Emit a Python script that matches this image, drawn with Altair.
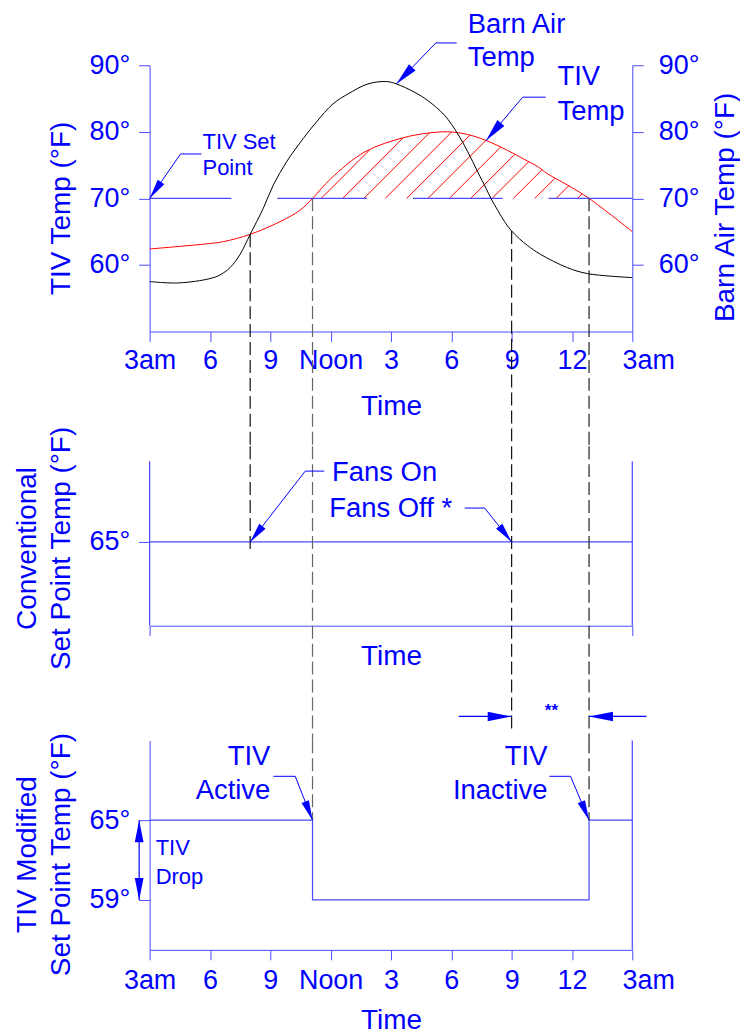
import math
import numpy as np
import pandas as pd
import altair as alt

# ---------------- chart values ----------------
tick_hours = [3, 6, 9, 12, 15, 18, 21, 24, 27]
tick_labels = ["3am", "6", "9", "Noon", "3", "6", "9", "12", "3am"]
top_temp_ticks = [60, 70, 80, 90]

barn_hours = [3.0, 4.44, 6.0, 6.5, 7.0, 7.5, 8.0, 8.65, 9.15, 9.81, 10.64, 11.3, 12.12,
              12.87, 13.86, 14.77, 15.27, 16.17, 16.83, 17.66, 18.32, 18.82, 19.31,
              19.73, 19.97, 20.31, 20.65, 20.97, 21.4, 21.8, 22.43, 23.77, 24.77, 27.0]
barn_temp = [57.5, 57.3, 57.95, 58.5, 59.6, 61.6, 64.6, 68.5, 72.0, 75.5, 79.0, 81.5, 84.2,
             85.7, 87.2, 87.55, 87.2, 85.95, 84.7, 82.5, 79.7, 77.0, 74.0,
             71.5, 70.0, 68.2, 66.5, 65.2, 63.9, 62.9, 61.6, 59.6, 58.7, 58.1]

tiv_hours = [3.0, 5.93, 6.67, 8.0, 9.48, 10.47, 11.1, 12.02, 13.71, 15.6, 16.83, 17.83,
             18.82, 19.73, 20.8, 21.79, 22.29, 22.78, 23.78, 24.85, 27.0]
tiv_temp = [62.4, 63.2, 63.5, 64.6, 66.5, 68.2, 70.0, 73.0, 77.0, 79.1, 79.8, 80.0,
            79.6, 78.7, 77.2, 75.6, 74.8, 73.7, 72.0, 70.0, 65.0]

tiv_set_point = 70
conv_set_point = 65
mod_high = 65
mod_low = 59

fans_on = 8.0
fans_off = 21.0
tiv_active = 11.1
tiv_inactive = 24.85

# ---------------- layout / style ----------------
W = 484
H_TOP, H_MID, H_BOT = 267, 180, 210
GAP = 115
X_DOM = [3, 27]
TOP_DOM = [50, 90]
MID_DOM = [58, 73]
BOT_DOM = [55.25, 71]
KX = W / (X_DOM[1] - X_DOM[0])
K_TOP = H_TOP / (TOP_DOM[1] - TOP_DOM[0])
K_MID = H_MID / (MID_DOM[1] - MID_DOM[0])
K_BOT = H_BOT / (BOT_DOM[1] - BOT_DOM[0])

BLUE = "#0000ff"
LINE = "#4a4aff"
RED = "#ff0000"
FONT = "Liberation Sans"
ARROW = "M0,0L-0.2,1L0.2,1Z"
DASH = [13, 5]
CURVE = "catmull-rom"
FS = 27.5
U = alt.Undefined


def xq(field="h", axis=U):
    return alt.X(f"{field}:Q", scale=alt.Scale(domain=X_DOM, nice=False, zero=False), axis=axis)


def yq(dom, field="t", axis=U):
    return alt.Y(f"{field}:Q", scale=alt.Scale(domain=dom, nice=False, zero=False), axis=axis)


axis_common = dict(domainColor=LINE, tickColor=LINE, labelColor=BLUE, titleColor=BLUE,
                   labelFont=FONT, titleFont=FONT, labelFontSize=27, titleFontSize=28,
                   titleFontWeight="normal", grid=False, labelFlush=False,
                   labelOverlap=False, domainWidth=1, tickWidth=1)

label_expr = " : ".join(f"datum.value == {h} ? '{l}'" for h, l in zip(tick_hours, tick_labels)) + " : ''"
deg_expr = "datum.value + '°'"
last_offset = {"condition": {"test": f"datum.value == {X_DOM[1]}", "value": 16}, "value": 0}

x_axis_top = alt.Axis(values=tick_hours, labelExpr=label_expr, tickSize=10, labelPadding=6,
                      title="Time", titlePadding=19, labelOffset=last_offset, **axis_common)
x_axis_bot = alt.Axis(values=tick_hours, labelExpr=label_expr, tickSize=10, labelPadding=8,
                      title="Time", titlePadding=13, labelOffset=last_offset, **axis_common)
x_axis_mid = alt.Axis(values=[3, 27], labels=False, tickSize=10, title="Time", titlePadding=6,
                      **axis_common)


def arrow(tip_h, tip_t, tail_h, tail_t, ky, length=20):
    dx = (tail_h - tip_h) * KX
    dy = -(tail_t - tip_t) * ky
    ang = math.degrees(math.atan2(-dx, dy)) % 360
    return dict(h=tip_h, t=tip_t, ang=ang, sz=(2 * length) ** 2)


def leaders_layer(paths, dom):
    rows = []
    for i, p in enumerate(paths):
        for j, (h, t) in enumerate(p):
            rows.append(dict(id=i, o=j, h=h, t=t))
    return alt.Chart(pd.DataFrame(rows)).mark_line(color=BLUE, stroke=BLUE, strokeWidth=1, clip=False).encode(
        x=xq(), y=yq(dom), detail="id:N", order="o:Q")


def arrows_layer(rows, dom):
    return alt.Chart(pd.DataFrame(rows)).mark_point(
        shape=ARROW, filled=True, opacity=1, color=BLUE, fill=BLUE, strokeWidth=0, clip=False).encode(
        x=xq(), y=yq(dom), angle=alt.Angle("ang:Q", scale=None), size=alt.Size("sz:Q", scale=None))


def text_layer(rows, dom, align="left", weight="normal"):
    return alt.Chart(pd.DataFrame(rows)).mark_text(
        align=align, baseline="middle", color=BLUE, font=FONT, fontWeight=weight, clip=False).encode(
        x=xq(), y=yq(dom), text="txt:N", size=alt.Size("fs:Q", scale=None))


def dashed_layer(rows, dom):
    return alt.Chart(pd.DataFrame(rows)).mark_rule(strokeDash=DASH, strokeWidth=1.2, clip=False).encode(
        x=xq(), y=yq(dom), y2="t2:Q", stroke=alt.Stroke("col:N", scale=None))


def rules_layer(rows, dom, col, **kw):
    df = pd.DataFrame(rows)
    enc = dict(x=xq(), y=yq(dom))
    if "h2" in df:
        enc["x2"] = "h2:Q"
    if "t2" in df:
        enc["y2"] = "t2:Q"
    return alt.Chart(df).mark_rule(clip=False, color=col, stroke=col, **kw).encode(**enc)


# ---------------- top panel ----------------
top_gap_end = TOP_DOM[0] - GAP / K_TOP        # bottom edge of the gap below the top panel
mid_gap_end = MID_DOM[0] - GAP / K_MID        # bottom edge of the gap below the middle panel

barn_at = lambda h: float(np.interp(h, barn_hours, barn_temp))
tiv_at = lambda h: float(np.interp(h, tiv_hours, tiv_temp))

hatch = []
for h0 in np.arange(11.53, tiv_inactive, 1.062):
    s = 0.0
    while True:
        s += 0.2
        hh = h0 + s / KX
        tt = tiv_set_point + s / K_TOP
        if tt >= tiv_at(hh):
            break
    hatch.append(dict(h=float(h0), t=tiv_set_point, h2=hh, t2=tt))

hatch_l = rules_layer(hatch, TOP_DOM, RED, strokeWidth=1)
setline = rules_layer([dict(h=X_DOM[0], h2=X_DOM[1], t=tiv_set_point)], TOP_DOM, LINE,
                      strokeWidth=1.2, strokeDash=[90, 46], strokeDashOffset=8)

y_axis_left = alt.Axis(values=top_temp_ticks, labelExpr=deg_expr, tickSize=11, labelPadding=9,
                       title="TIV Temp (°F)", titlePadding=14, titleY=143, **axis_common)
y_axis_right = alt.Axis(orient="right", values=top_temp_ticks, labelExpr=deg_expr, tickSize=11,
                        labelPadding=15, title="Barn Air Temp (°F)", titleAngle=270,
                        titleBaseline="top", titlePadding=13, titleY=142, **axis_common)

red_line = alt.Chart(pd.DataFrame({"h": tiv_hours, "t": tiv_temp})).mark_line(
    color=RED, strokeWidth=1, interpolate=CURVE).encode(
    x=xq(axis=x_axis_top), y=yq(TOP_DOM, axis=y_axis_left))
black_line = alt.Chart(pd.DataFrame({"h": barn_hours, "t": barn_temp})).mark_line(
    color="black", strokeWidth=1, interpolate=CURVE).encode(
    x=xq(axis=x_axis_top), y=yq(TOP_DOM, axis=y_axis_right))

dashed_top = dashed_layer([
    dict(h=fans_on, t=barn_at(fans_on), t2=top_gap_end, col="#111111"),
    dict(h=tiv_active, t=tiv_set_point, t2=top_gap_end, col="#666666"),
    dict(h=fans_off, t=barn_at(fans_off), t2=top_gap_end, col="#111111"),
    dict(h=tiv_inactive, t=tiv_set_point, t2=top_gap_end, col="#222222"),
], TOP_DOM)

top_paths = [
    [(5.58, 76.67), (4.54, 76.67), (3.0, tiv_set_point)],
    [(18.27, 93.35), (17.23, 93.35), (15.27, 87.2)],
    [(22.69, 85.2), (21.55, 85.2), (19.73, 78.7)],
]
top_leaders = leaders_layer(top_paths, TOP_DOM)
top_arrows = arrows_layer([arrow(p[-1][0], p[-1][1], p[-2][0], p[-2][1], K_TOP, L)
                           for p, L in zip(top_paths, [20, 23, 23])], TOP_DOM)
top_text = text_layer([
    dict(h=5.63, t=78.46, txt="TIV Set", fs=22),
    dict(h=5.63, t=74.57, txt="Point", fs=22),
    dict(h=18.82, t=96.0, txt="Barn Air", fs=FS),
    dict(h=18.82, t=91.1, txt="Temp", fs=FS),
    dict(h=23.28, t=88.2, txt="TIV", fs=FS),
    dict(h=23.28, t=82.96, txt="Temp", fs=FS),
], TOP_DOM)

top_left = alt.layer(red_line, hatch_l, setline, dashed_top, top_leaders, top_arrows, top_text)
top = alt.layer(top_left, black_line).resolve_scale(y="independent").properties(width=W, height=H_TOP)

# ---------------- middle panel ----------------
y_axis_mid = alt.Axis(values=[conv_set_point], labelExpr=deg_expr, tickSize=11, labelPadding=9,
                      domain=False, title=["Conventional", "Set Point Temp (°F)"],
                      titlePadding=14, titleLineHeight=34, titleY=102, **axis_common)
mid_line = alt.Chart(pd.DataFrame([dict(h=X_DOM[0], h2=X_DOM[1], t=conv_set_point)])).mark_rule(
    color=LINE, stroke=LINE, strokeWidth=1.2).encode(
    x=xq(axis=x_axis_mid), x2="h2:Q", y=yq(MID_DOM, axis=y_axis_mid))
mid_frame = rules_layer([dict(h=X_DOM[0], t=MID_DOM[0], t2=71.75),
                         dict(h=X_DOM[1], t=MID_DOM[0], t2=71.75)], MID_DOM, LINE, strokeWidth=1.2)
dashed_mid = dashed_layer([
    dict(h=fans_on, t=MID_DOM[1], t2=64.17, col="#111111"),
    dict(h=tiv_active, t=MID_DOM[1], t2=mid_gap_end, col="#666666"),
    dict(h=fans_off, t=MID_DOM[1], t2=49.42, col="#111111"),
    dict(h=tiv_inactive, t=MID_DOM[1], t2=mid_gap_end, col="#222222"),
], MID_DOM)
mid_paths = [
    [(11.68, 70.92), (10.74, 70.92), (fans_on, conv_set_point)],
    [(18.67, 67.83), (19.66, 67.83), (fans_off, conv_set_point)],
]
mid_leaders = leaders_layer(mid_paths, MID_DOM)
mid_arrows = arrows_layer([arrow(p[-1][0], p[-1][1], p[-2][0], p[-2][1], K_MID, 20)
                           for p in mid_paths], MID_DOM)
mid_text = text_layer([
    dict(h=12.07, t=70.75, txt="Fans On", fs=FS),
    dict(h=11.93, t=67.75, txt="Fans Off *", fs=FS),
], MID_DOM)
mid = alt.layer(mid_line, mid_frame, dashed_mid, mid_leaders, mid_arrows, mid_text).properties(
    width=W, height=H_MID)

# ---------------- bottom panel ----------------
y_axis_bot = alt.Axis(values=[mod_low, mod_high], labelExpr=deg_expr, tickSize=11, labelPadding=9,
                      title=["TIV Modified", "Set Point Temp (°F)"], titlePadding=14,
                      titleLineHeight=34, titleY=114, **axis_common)
step_h = [X_DOM[0], tiv_active, tiv_active, tiv_inactive, tiv_inactive, X_DOM[1]]
step_t = [mod_high, mod_high, mod_low, mod_low, mod_high, mod_high]
step = alt.Chart(pd.DataFrame({"o": range(len(step_h)), "h": step_h, "t": step_t})).mark_line(
    color=LINE, stroke=LINE, strokeWidth=1.2).encode(
    x=xq(axis=x_axis_bot), y=yq(BOT_DOM, axis=y_axis_bot), order="o:Q")
bot_frame = rules_layer([dict(h=X_DOM[1], t=BOT_DOM[0], t2=BOT_DOM[1])], BOT_DOM, LINE, strokeWidth=1.2)
dashed_bot = dashed_layer([
    dict(h=tiv_active, t=BOT_DOM[1], t2=mod_high, col="#666666"),
    dict(h=tiv_inactive, t=BOT_DOM[1], t2=mod_high, col="#222222"),
], BOT_DOM)
bot_paths = [
    [(9.15, 68.3), (10.24, 68.3), (tiv_active, mod_high)],
    [(22.88, 68.3), (23.93, 68.3), (tiv_inactive, mod_high)],
]
bot_leaders = leaders_layer(bot_paths, BOT_DOM)
drop_h = 2.48
star_t = 72.8
bot_lines = rules_layer([
    dict(h=drop_h, h2=drop_h, t=mod_low, t2=mod_high),
    dict(h=18.37, h2=fans_off, t=star_t, t2=star_t),
    dict(h=27.7, h2=tiv_inactive, t=star_t, t2=star_t),
], BOT_DOM, BLUE, strokeWidth=1.2)
bot_arrow_rows = [arrow(p[-1][0], p[-1][1], p[-2][0], p[-2][1], K_BOT, 20) for p in bot_paths]
bot_arrow_rows += [
    arrow(drop_h, mod_high, drop_h, mod_low, K_BOT, 22),
    arrow(drop_h, mod_low, drop_h, mod_high, K_BOT, 22),
    arrow(fans_off, star_t, 18.37, star_t, K_BOT, 24),
    arrow(tiv_inactive, star_t, 27.7, star_t, K_BOT, 24),
]
bot_arrows = arrows_layer(bot_arrow_rows, BOT_DOM)
bot_text_r = text_layer([
    dict(h=9.0, t=69.72, txt="TIV", fs=FS),
    dict(h=9.0, t=67.17, txt="Active", fs=FS),
    dict(h=22.78, t=69.72, txt="TIV", fs=FS),
    dict(h=22.78, t=67.17, txt="Inactive", fs=FS),
], BOT_DOM, align="right")
bot_text_l = text_layer([
    dict(h=3.3, t=62.9, txt="TIV", fs=22),
    dict(h=3.3, t=60.73, txt="Drop", fs=22),
], BOT_DOM)
bot_text_c = text_layer([dict(h=22.98, t=73.18, txt="**", fs=17)], BOT_DOM, align="center",
                        weight="bold")

bot = alt.layer(step, bot_frame, dashed_bot, bot_leaders, bot_lines, bot_arrows,
                bot_text_r, bot_text_l, bot_text_c).properties(width=W, height=H_BOT)

chart = alt.vconcat(top, mid, bot, spacing=GAP, bounds="flush").properties(
    padding={"left": 5, "top": 1, "right": 0, "bottom": 0},
    background="white",
).configure_view(stroke=None)

chart.save("out.html", embed_options={"renderer": "svg", "actions": False})
